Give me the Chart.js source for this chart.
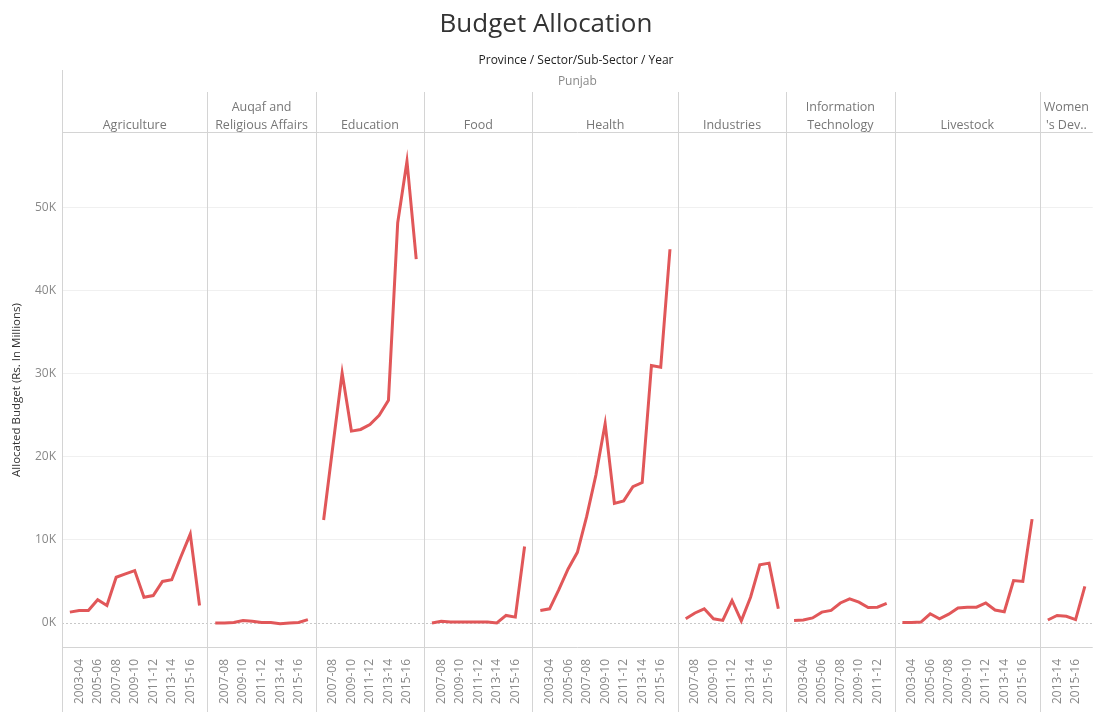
<!DOCTYPE html>
<html>
<head>
<meta charset="utf-8">
<script src="https://cdn.jsdelivr.net/npm/chart.js@4"></script>
<style>
  body { margin: 0; background: #fff; }
</style>
</head>
<body>
<canvas id="budgetChart" width="1094" height="712"></canvas>
<script>
// sectors and their values (Rs. millions)
const sectors = ['Agriculture', 'Auqaf and Religious Affairs', 'Education', 'Food', 'Health',
  'Industries', 'Information Technology', 'Livestock', "Women's Dev.."];
const headerLines = [['Agriculture'], ['Auqaf and', 'Religious Affairs'], ['Education'], ['Food'], ['Health'],
  ['Industries'], ['Information', 'Technology'], ['Livestock'], ['Women', "'s Dev.."]];
const firstYear = [2002, 2006, 2006, 2006, 2002, 2006, 2002, 2002, 2012];

const agriculture = [1300, 1500, 1500, 2800, 2100, 5500, 5900, 6300, 3100, 3300, 5000, 5200, 8000, 10700, 2100];
const auqaf = [0, 0, 50, 300, 200, 50, 50, -100, 0, 50, 400];
const education = [12400, 21300, 30100, 23100, 23300, 23900, 25000, 26800, 48200, 55600, 43800];
const food = [0, 200, 100, 100, 100, 100, 100, 0, 900, 700, 9200];
const health = [1500, 1700, 4000, 6500, 8500, 12800, 17800, 24000, 14400, 14700, 16400, 16900, 31000, 30800, 45000];
const industries = [500, 1200, 1700, 500, 300, 2700, 250, 3100, 7000, 7200, 1700];
const infoTech = [300, 350, 600, 1300, 1500, 2400, 2900, 2500, 1850, 1900, 2350];
const livestock = [50, 50, 100, 1100, 500, 1050, 1800, 1900, 1900, 2400, 1550, 1350, 5100, 5000, 12500];
const womensDev = [350, 900, 800, 400, 4400];

const yTicks = [0, 10000, 20000, 30000, 40000, 50000];

const seriesList = [agriculture, auqaf, education, food, health, industries, infoTech, livestock, womensDev];

// lay panels out side by side on one linear x axis, with a little padding per panel
const GAP = 0.7;
const panelLeft = [], panelRight = [];
const xTicks = [];   // {value, label}
let cursor = 0;
const datasets = seriesList.map(function(vals, p) {
  panelLeft.push(cursor);
  const data = vals.map(function(v, i) {
    const xv = cursor + GAP / 2 + 0.5 + i;
    const y = firstYear[p] + i;
    if (y % 2 === 1) xTicks.push({ value: xv, label: y + '-' + String((y + 1) % 100).padStart(2, '0') });
    return { x: xv, y: v };
  });
  cursor += vals.length + GAP;
  panelRight.push(cursor);
  return {
    data: data,
    borderColor: '#e15759',
    borderWidth: 3,
    pointRadius: 0,
    tension: 0
  };
});
const xMax = cursor;

const FONT = '"Open Sans", "DejaVu Sans", sans-serif';

const panelPlugin = {
  id: 'panels',
  beforeDatasetsDraw: function(chart) {
    const ctx = chart.ctx, y = chart.scales.y, area = chart.chartArea;
    ctx.save();
    ctx.strokeStyle = '#c8c8c8';
    ctx.lineWidth = 1;
    ctx.setLineDash([2, 2]);
    ctx.beginPath();
    ctx.moveTo(area.left, Math.round(y.getPixelForValue(0)) + 0.5);
    ctx.lineTo(area.right, Math.round(y.getPixelForValue(0)) + 0.5);
    ctx.stroke();
    ctx.restore();
  },
  afterDraw: function(chart) {
    const ctx = chart.ctx, x = chart.scales.x, area = chart.chartArea;
    ctx.save();
    ctx.fillStyle = '#333';
    ctx.textAlign = 'center';
    ctx.textBaseline = 'middle';
    ctx.font = '26px ' + FONT;
    ctx.fillText('Budget Allocation', 546, 25);
    ctx.font = '12px ' + FONT;
    ctx.fillStyle = '#222';
    ctx.fillText('Province / Sector/Sub-Sector / Year', 576, 61);
    ctx.fillStyle = '#888';
    ctx.fillText('Punjab', (area.left + area.right) / 2, 82);

    ctx.strokeStyle = '#d4d4d4';
    ctx.lineWidth = 1;
    ctx.beginPath();
    ctx.moveTo(area.left + 0.5, 70); ctx.lineTo(area.left + 0.5, 712);
    ctx.moveTo(area.left, 132.5); ctx.lineTo(area.right, 132.5);
    ctx.moveTo(area.left, Math.round(area.bottom) + 0.5); ctx.lineTo(area.right, Math.round(area.bottom) + 0.5);
    ctx.stroke();

    ctx.font = '12.5px ' + FONT;
    ctx.fillStyle = '#777';
    sectors.forEach(function(s, p) {
      const left = x.getPixelForValue(panelLeft[p]);
      const right = x.getPixelForValue(panelRight[p]);
      if (p > 0) {
        ctx.beginPath();
        ctx.moveTo(Math.round(left) + 0.5, 92);
        ctx.lineTo(Math.round(left) + 0.5, 712);
        ctx.stroke();
      }
      const lines = headerLines[p];
      const cx = (left + right) / 2;
      if (lines.length === 1) {
        ctx.fillText(lines[0], cx, 125);
      } else {
        ctx.fillText(lines[0], cx, 107);
        ctx.fillText(lines[1], cx, 125);
      }
    });
    ctx.restore();
  }
};

new Chart(document.getElementById('budgetChart').getContext('2d'), {
  type: 'line',
  data: { datasets: datasets },
  plugins: [panelPlugin],
  options: {
    responsive: false,
    animation: false,
    layout: { padding: { top: 133, left: 0, right: 0, bottom: 0 } },
    plugins: { legend: { display: false }, tooltip: { enabled: false } },
    scales: {
      x: {
        type: 'linear',
        min: 0,
        max: xMax,
        grid: { display: false },
        border: { display: false },
        afterFit: function(scale) { scale.height = 65; },
        afterBuildTicks: function(scale) {
          scale.ticks = xTicks.map(function(t) { return { value: t.value, label: t.label }; });
        },
        ticks: {
          autoSkip: false,
          minRotation: 90,
          maxRotation: 90,
          padding: 4,
          color: '#888',
          font: { family: FONT, size: 12 },
          callback: function(value) {
            const t = xTicks.find(function(k) { return Math.abs(k.value - value) < 1e-6; });
            return t ? t.label : '';
          }
        }
      },
      y: {
        min: -2900,
        max: 59000,
        afterFit: function(scale) { scale.width = 62; },
        afterBuildTicks: function(scale) {
          scale.ticks = yTicks.map(function(v) { return { value: v }; });
        },
        border: { display: false },
        grid: {
          drawTicks: false,
          color: function(c) { return c.tick && c.tick.value === 0 ? 'rgba(0,0,0,0)' : '#f0f0f0'; }
        },
        title: {
          display: true,
          text: 'Allocated Budget (Rs. In Millions)',
          color: '#333',
          font: { family: FONT, size: 11.5 },
          padding: { top: 10, bottom: 0 }
        },
        ticks: {
          color: '#888',
          padding: 6,
          font: { family: FONT, size: 12 },
          callback: function(v) { return (v / 1000) + 'K'; }
        }
      }
    }
  }
});
</script>
</body>
</html>
